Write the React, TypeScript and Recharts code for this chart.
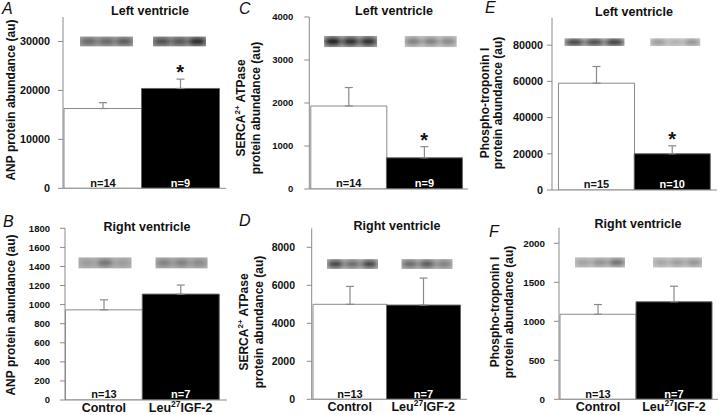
import React from "react";
import {
    BarChart,
    Bar,
    XAxis,
    YAxis,
    ErrorBar,
    Cell,
    LabelList,
    ReferenceDot,
    ReferenceArea,
} from "recharts";

const groups = ["Control", "Leu^{27}IGF-2"];

// left ventricle
const anpLeft = [16300, 20400];
const anpLeftErr = [1200, 1900];
const anpLeftN = [14, 9];
const sercaLeft = [1930, 725];
const sercaLeftErr = [430, 260];
const sercaLeftN = [14, 9];
const ptnLeft = [59000, 20000];
const ptnLeftErr = [9200, 4400];
const ptnLeftN = [15, 10];
const leftSig = [false, true];

// right ventricle
const anpRight = [945, 1110];
const anpRightErr = [105, 95];
const anpRightN = [13, 7];
const sercaRight = [5000, 4960];
const sercaRightErr = [940, 1420];
const sercaRightN = [13, 7];
const ptnRight = [1090, 1250];
const ptnRightErr = [125, 200];
const ptnRightN = [13, 7];
const rightSig = [false, false];

// y axis ticks
const anpLeftTicks = [0, 10000, 20000, 30000];
const sercaLeftTicks = [0, 1000, 2000, 3000, 4000];
const ptnLeftTicks = [0, 20000, 40000, 60000, 80000];
const anpRightTicks = [0, 200, 400, 600, 800, 1000, 1200, 1400, 1600, 1800];
const sercaRightTicks = [0, 2000, 4000, 6000, 8000];
const ptnRightTicks = [0, 500, 1000, 1500, 2000];

// western blot lanes (band darkness per lane), control then treated
const anpLeftBands = [[0.45, 0.45, 0.55], [0.6, 0.55, 0.9]];
const sercaLeftBands = [[0.95, 0.85, 0.85], [0.4, 0.4, 0.35]];
const ptnLeftBands = [[0.9, 0.85, 0.95], [0.35, 0.2, 0.4]];
const anpRightBands = [[0.15, 0.4, 0.15], [0.3, 0.3, 0.25]];
const sercaRightBands = [[0.75, 0.5, 0.75], [0.5, 0.6, 0.35]];
const ptnRightBands = [[0.2, 0.3, 0.5], [0.2, 0.25, 0.3]];

const FONT = '"Liberation Sans", Arial, Helvetica, sans-serif';
const GRAY = "#8a8a8a";

function Rich({ text, supSize = 8, raise = 5 }: { text: string; supSize?: number; raise?: number }) {
    const parts = text.split(/\^\{([^}]*)\}/);
    const out: React.ReactNode[] = [];
    let up = false;
    parts.forEach((s, i) => {
        if (!s) return;
        if (i % 2 === 1) {
            out.push(<tspan key={i} dy={-raise} fontSize={supSize}>{s}</tspan>);
            up = true;
        } else {
            out.push(<tspan key={i} dy={up ? raise : 0}>{s}</tspan>);
            up = false;
        }
    });
    return <>{out}</>;
}

function GroupTick(props: any) {
    const { x, y, payload } = props;
    return (
        <text x={x} y={y + 8} dy="0.71em" textAnchor="middle" fontSize={12.5} fontWeight="bold" fill="#111" fontFamily={FONT}>
            <Rich text={payload.value} supSize={8.5} raise={5} />
        </text>
    );
}

function BlotShape({ x, y, width, height, bands, bg, box, uid }: any) {
    if (x == null || isNaN(x)) return null;
    const bx = x + box[0];
    const w = box[1];
    const lane = w / bands.length;
    return (
        <g>
            <defs>
                <filter id={`f-${uid}`} x="-50%" y="-100%" width="200%" height="300%">
                    <feGaussianBlur stdDeviation={2.2} />
                </filter>
                <clipPath id={`c-${uid}`}>
                    <rect x={bx} y={y} width={w} height={height} />
                </clipPath>
            </defs>
            <rect x={bx} y={y} width={w} height={height} fill={bg} />
            <g clipPath={`url(#c-${uid})`}>
                {bands.map((b: number, i: number) => (
                    <ellipse
                        key={i}
                        cx={bx + lane * (i + 0.5)}
                        cy={y + height / 2}
                        rx={lane * 0.48}
                        ry={height * 0.32}
                        fill="#111"
                        opacity={b}
                        filter={`url(#f-${uid})`}
                    />
                ))}
            </g>
        </g>
    );
}

const panels = [
    {
        id: "A", letter: "A", letterPos: [2, 13.5], title: "Left ventricle", titlePos: [150, 15],
        ylabel: ["ANP protein abundance (au)"], ylabelX: [11], ylabelY: 100,
        left: 0, top: 0, width: 240, height: 205, axisWidth: 63, xHeight: 10,
        margin: { top: 17, right: 14, bottom: 6.7, left: 0 }, pad: { left: 1, right: 7 },
        domain: [0, 35000], ticks: anpLeftTicks, tickFont: 10.8, tickMargin: 8,
        values: anpLeft, errs: anpLeftErr, ns: anpLeftN, sig: leftSig,
        bands: anpLeftBands, bgs: ["#a4a4a4", "#9a9a9a"], blotRange: [29000, 31000], blotBox: [[16, 53], [11.5, 53]],
        showGroups: false,
    },
    {
        id: "C", letter: "C", letterPos: [239, 13.5], title: "Left ventricle", titlePos: [394, 15],
        ylabel: ["SERCA^{2+} ATPase", "protein abundance (au)"], ylabelX: [241, 256], ylabelY: 108,
        left: 240, top: 0, width: 240, height: 205, axisWidth: 69.3, xHeight: 10,
        margin: { top: 17, right: 12, bottom: 6, left: 0 }, pad: { left: 1.5, right: 6 },
        domain: [0, 4000], ticks: sercaLeftTicks, tickFont: 9.5, tickMargin: 11,
        values: sercaLeft, errs: sercaLeftErr, ns: sercaLeftN, sig: leftSig,
        bands: sercaLeftBands, bgs: ["#a8a8a8", "#c6c6c6"], blotRange: [3300, 3560], blotBox: [[13.3, 53], [18.3, 52]],
        showGroups: false,
    },
    {
        id: "E", letter: "E", letterPos: [485, 13], title: "Left ventricle", titlePos: [634, 16],
        ylabel: ["Phospho-troponin I", "protein abundance (au)"], ylabelX: [485, 498], ylabelY: 103,
        left: 480, top: 0, width: 240, height: 205, axisWidth: 72, xHeight: 10,
        margin: { top: 18, right: 3, bottom: 5, left: 0 }, pad: { left: 6.5, right: 7 },
        domain: [0, 95000], ticks: ptnLeftTicks, tickFont: 10.8, tickMargin: 4,
        values: ptnLeft, errs: ptnLeftErr, ns: ptnLeftN, sig: leftSig,
        bands: ptnLeftBands, bgs: ["#bdbdbd", "#cfcfcf"], blotRange: [79500, 83800], blotBox: [[6, 60], [16, 50]],
        showGroups: false,
    },
    {
        id: "B", letter: "B", letterPos: [3, 227], title: "Right ventricle", titlePos: [147, 231],
        ylabel: ["ANP protein abundance (au)"], ylabelX: [11], ylabelY: 315,
        left: 0, top: 205, width: 240, height: 210, axisWidth: 65, xHeight: 15,
        margin: { top: 23.3, right: 13, bottom: 0, left: 0 }, pad: { left: 0.5, right: 8 },
        domain: [0, 1800], ticks: anpRightTicks, tickFont: 9.5, tickMargin: 10,
        values: anpRight, errs: anpRightErr, ns: anpRightN, sig: rightSig,
        bands: anpRightBands, bgs: ["#b4b4b4", "#b0b0b0"], blotRange: [1380, 1495], blotBox: [[13, 53], [13.3, 52]],
        showGroups: true,
    },
    {
        id: "D", letter: "D", letterPos: [239, 226], title: "Right ventricle", titlePos: [397, 230],
        ylabel: ["SERCA^{2+} ATPase", "protein abundance (au)"], ylabelX: [244, 259], ylabelY: 322,
        left: 240, top: 205, width: 240, height: 210, axisWidth: 71.7, xHeight: 15.7,
        margin: { top: 23.3, right: 13, bottom: 0, left: 0 }, pad: { left: 1.3, right: 7 },
        domain: [0, 9000], ticks: sercaRightTicks, tickFont: 10.5, tickMargin: 11.7,
        values: sercaRight, errs: sercaRightErr, ns: sercaRightN, sig: rightSig,
        bands: sercaRightBands, bgs: ["#b8b8b8", "#b8b8b8"], blotRange: [6860, 7380], blotBox: [[14, 51], [15, 51]],
        showGroups: true,
    },
    {
        id: "F", letter: "F", letterPos: [489, 237], title: "Right ventricle", titlePos: [638, 228],
        ylabel: ["Phospho-troponin I", "protein abundance (au)"], ylabelX: [495, 509], ylabelY: 312,
        left: 480, top: 205, width: 240, height: 210, axisWidth: 79, xHeight: 15.7,
        margin: { top: 22.7, right: 2, bottom: 0, left: 0 }, pad: { left: 1, right: 6 },
        domain: [0, 2200], ticks: ptnRightTicks, tickFont: 9.8, tickMargin: 9,
        values: ptnRight, errs: ptnRightErr, ns: ptnRightN, sig: rightSig,
        bands: ptnRightBands, bgs: ["#c4c4c4", "#c8c8c8"], blotRange: [1690, 1820], blotBox: [[15, 50], [17, 49]],
        showGroups: true,
    },
];

function Panel({ p }: { p: any }) {
    const data = groups.map((g, i) => ({ group: g, value: p.values[i], err: [0, p.errs[i]], n: p.ns[i] }));

    const renderN = (props: any) => {
        const { x, y, width, height, value, index } = props;
        return (
            <text
                x={x + width / 2}
                y={y + height - 1.8}
                textAnchor="middle"
                fontSize={11}
                fontWeight="bold"
                fontFamily={FONT}
                fill={index === 0 ? "#111" : "#fff"}
            >
                n={value}
            </text>
        );
    };

    return (
        <div style={{ position: "absolute", left: p.left, top: p.top }}>
            <BarChart width={p.width} height={p.height} data={data} margin={p.margin} barCategoryGap={0} barGap={0}>
                <XAxis
                    dataKey="group"
                    height={p.xHeight}
                    padding={p.pad}
                    axisLine={{ stroke: GRAY }}
                    tickLine={false}
                    tickSize={0}
                    tickMargin={4}
                    interval={0}
                    tick={p.showGroups ? <GroupTick /> : false}
                />
                <YAxis
                    width={p.axisWidth}
                    domain={p.domain}
                    ticks={p.ticks}
                    interval={0}
                    allowDataOverflow
                    axisLine={{ stroke: GRAY }}
                    tickLine={{ stroke: GRAY }}
                    tickSize={5}
                    tickMargin={p.tickMargin}
                    tick={{ fontSize: p.tickFont, fontWeight: "bold", fill: "#111", fontFamily: FONT }}
                />
                {groups.map((g, i) => (
                    <ReferenceArea
                        key={`blot-${i}`}
                        x1={g}
                        x2={g}
                        y1={p.blotRange[0]}
                        y2={p.blotRange[1]}
                        shape={(sp: any) => (
                            <BlotShape {...sp} bands={p.bands[i]} bg={p.bgs[i]} box={p.blotBox[i]} uid={`${p.id}${i}`} />
                        )}
                    />
                ))}
                <Bar dataKey="value" isAnimationActive={false}>
                    {data.map((d, i) => (
                        <Cell key={d.group} fill={i === 0 ? "#ffffff" : "#000000"} stroke={i === 0 ? GRAY : "#666"} strokeWidth={1} />
                    ))}
                    <ErrorBar dataKey="err" direction="y" width={4} stroke={GRAY} strokeWidth={1.2} isAnimationActive={false} />
                    <LabelList dataKey="n" content={renderN} />
                </Bar>
                {groups.map((g, i) =>
                    p.sig[i] ? (
                        <ReferenceDot
                            key={`sig-${i}`}
                            x={g}
                            y={p.values[i] + p.errs[i]}
                            r={0}
                            shape={(sp: any) => (
                                <text x={sp.cx} y={sp.cy} textAnchor="middle" fontSize={20} fontWeight="bold" fontFamily={FONT} fill="#111">
                                    *
                                </text>
                            )}
                        />
                    ) : null
                )}
            </BarChart>
        </div>
    );
}

export default function App() {
    return (
        <div style={{ position: "absolute", left: 0, top: 0, width: 720, height: 415, background: "#fff", overflow: "hidden" }}>
            {panels.map((p) => (
                <Panel key={p.id} p={p} />
            ))}
            <svg width={720} height={415} style={{ position: "absolute", left: 0, top: 0, pointerEvents: "none" }} fontFamily={FONT}>
                {panels.map((p) => (
                    <g key={p.id}>
                        <text x={p.letterPos[0]} y={p.letterPos[1]} fontSize={16} fontStyle="italic" fill="#111">
                            {p.letter}
                        </text>
                        <text x={p.titlePos[0]} y={p.titlePos[1]} textAnchor="middle" fontSize={12.5} fontWeight="bold" fill="#111">
                            {p.title}
                        </text>
                        {p.ylabel.map((line, i) => (
                            <text
                                key={i}
                                transform={`translate(${p.ylabelX[i]},${p.ylabelY}) rotate(-90)`}
                                y={4.3}
                                textAnchor="middle"
                                fontSize={12}
                                fontWeight="bold"
                                fill="#111"
                            >
                                <Rich text={line} supSize={8} raise={5} />
                            </text>
                        ))}
                    </g>
                ))}
            </svg>
        </div>
    );
}
